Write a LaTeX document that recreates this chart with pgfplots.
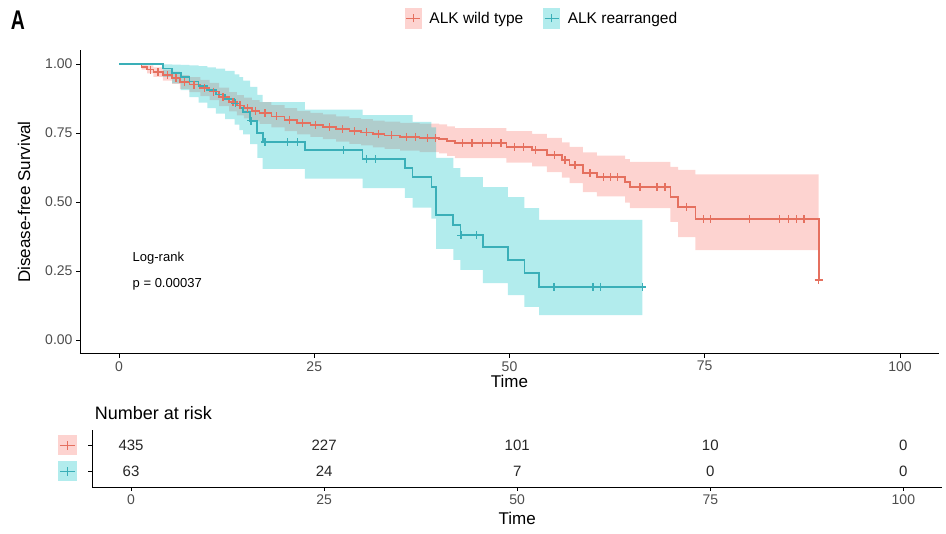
\documentclass[border=0pt]{standalone}
\usepackage{fontspec}
\setmainfont{Liberation Sans}
\usepackage{pgfplots}
\pgfplotsset{compat=1.18}
\usepackage{pgfplotstable}
\definecolor{redline}{HTML}{E5705F}
\definecolor{tealline}{HTML}{3AAFB8}
\definecolor{redfill}{HTML}{F8766D}
\definecolor{tealfill}{HTML}{00BFC4}
\definecolor{tickgrey}{HTML}{4D4D4D}

% red: ALK wild type, survival steps
\pgfplotstableread{
t S
0 1
2.9 0.99
3.6 0.98
4.4 0.97
5.6 0.96
6.8 0.95
7.8 0.935
9.0 0.925
10.4 0.913
11.6 0.90
12.8 0.88
14.1 0.862
15.1 0.85
16.0 0.84
17.0 0.83
18.0 0.822
19.5 0.81
21.2 0.798
22.8 0.787
24.5 0.779
26.1 0.772
27.8 0.764
29.5 0.757
31.0 0.752
32.5 0.746
34.0 0.741
36.0 0.736
38.5 0.732
41.0 0.728
42.0 0.72
43.0 0.713
49.6 0.70
52.9 0.688
54.8 0.67
56.7 0.652
57.7 0.634
59.4 0.605
61.2 0.59
64.8 0.572
65.4 0.554
70.6 0.518
71.6 0.482
73.8 0.438
89.6 0.217
}\redtab

% red confidence band: upper limit forward, lower limit backward
\pgfplotstableread{
t y
0 1
2.9 0.999
3.6 0.995
4.4 0.988
5.6 0.98
6.8 0.972
7.8 0.96
9.0 0.952
10.4 0.942
11.6 0.932
12.8 0.914
14.1 0.898
15.1 0.887
16.0 0.878
17.0 0.869
18.0 0.862
19.5 0.851
21.2 0.84
22.8 0.83
24.5 0.823
26.1 0.817
27.8 0.81
29.5 0.804
31.0 0.80
32.5 0.795
34.0 0.791
36.0 0.787
38.5 0.784
41.0 0.781
42.0 0.774
43.0 0.768
49.6 0.757
52.9 0.747
54.8 0.732
56.7 0.716
57.7 0.70
59.4 0.68
61.2 0.668
64.8 0.655
65.4 0.645
70.6 0.627
71.6 0.616
73.8 0.60
89.6 0.60
89.6 0.326
73.8 0.373
71.6 0.428
70.6 0.478
65.4 0.498
64.8 0.52
61.2 0.536
59.4 0.568
57.7 0.588
56.7 0.608
54.8 0.629
52.9 0.643
49.6 0.659
43.0 0.667
42.0 0.676
41.0 0.681
38.5 0.686
36.0 0.692
34.0 0.698
32.5 0.705
31.0 0.711
29.5 0.719
27.8 0.728
26.1 0.736
24.5 0.745
22.8 0.757
21.2 0.77
19.5 0.783
18.0 0.792
17.0 0.803
16.0 0.814
15.1 0.828
14.1 0.847
12.8 0.869
11.6 0.884
10.4 0.898
9.0 0.91
7.8 0.928
6.8 0.94
5.6 0.953
4.4 0.966
3.6 0.98
2.9 1
0 1
}\redband

% teal: ALK rearranged, survival steps
\pgfplotstableread{
t S
0 1
5.6 0.984
6.8 0.968
7.9 0.952
9.0 0.937
10.2 0.921
11.3 0.905
12.4 0.889
13.6 0.873
14.8 0.857
15.4 0.841
15.9 0.825
16.8 0.794
17.7 0.75
18.4 0.717
23.8 0.688
31.2 0.656
36.6 0.623
37.6 0.59
40.0 0.554
40.6 0.453
42.8 0.417
43.7 0.38
46.6 0.337
49.8 0.29
51.9 0.243
53.8 0.192
67.0 0.192
}\tealtab

% teal confidence band: upper limit forward, lower limit backward
\pgfplotstableread{
t y
0 1
5.6 0.999
6.8 0.998
7.9 0.997
9.0 0.995
10.2 0.992
11.3 0.988
12.4 0.983
13.6 0.975
14.8 0.962
15.4 0.952
15.9 0.94
16.8 0.917
17.7 0.888
18.4 0.862
23.8 0.835
31.2 0.815
36.6 0.815
37.6 0.79
40.0 0.77
40.6 0.66
42.8 0.623
43.7 0.59
46.6 0.554
49.8 0.518
51.9 0.478
53.8 0.435
67.0 0.435
67.0 0.09
53.8 0.12
51.9 0.163
49.8 0.206
46.6 0.254
43.7 0.29
42.8 0.33
40.6 0.44
40.0 0.48
37.6 0.515
36.6 0.55
31.2 0.585
23.8 0.62
18.4 0.66
17.7 0.71
16.8 0.745
15.9 0.76
15.4 0.78
14.8 0.80
13.6 0.82
12.4 0.84
11.3 0.86
10.2 0.88
9.0 0.905
7.9 0.93
6.8 0.953
5.6 1
0 1
}\tealband

\pgfplotstableread{
t S
4.0 0.98
5.0 0.97
6.2 0.96
7.3 0.95
8.4 0.935
9.6 0.925
10.9 0.913
12.1 0.90
13.3 0.88
14.6 0.862
15.5 0.85
16.5 0.84
17.5 0.83
18.7 0.822
20.2 0.81
21.8 0.798
23.5 0.787
25.2 0.779
26.9 0.772
28.6 0.764
30.2 0.757
31.7 0.752
33.2 0.746
34.9 0.741
36.8 0.736
38.0 0.736
39.5 0.732
40.5 0.732
44.0 0.713
45.2 0.713
46.5 0.713
47.7 0.713
48.9 0.713
50.6 0.70
51.8 0.70
53.3 0.688
55.8 0.67
57.1 0.652
58.4 0.634
60.3 0.605
62.0 0.59
62.9 0.59
63.8 0.59
66.7 0.554
68.9 0.554
69.9 0.554
72.7 0.482
74.8 0.438
75.7 0.438
80.7 0.438
84.6 0.438
85.7 0.438
86.8 0.438
87.7 0.438
89.6 0.217
}\redcens

\pgfplotstableread{
t S
14.9 0.857
16.9 0.794
18.7 0.717
21.6 0.717
22.9 0.717
28.7 0.688
31.7 0.656
32.8 0.656
43.8 0.38
45.8 0.38
55.7 0.192
60.7 0.192
61.7 0.192
67.0 0.192
}\tealcens

\begin{document}
\begin{tikzpicture}
\path[use as bounding box] (0pt,0pt) rectangle (946pt,534pt);
\node[anchor=center, font=\fontsize{27}{27}\selectfont\bfseries, xscale=0.72] at (18pt,514pt) {A};

\begin{axis}[
  at={(80pt,180.2pt)}, anchor=south west, scale only axis,
  width=859pt, height=303.6pt,
  xmin=-5, xmax=105, ymin=-0.05, ymax=1.05,
  axis lines=left, axis line style={-, line width=0.9pt, black},
  xtick={0,25,50,75,100}, ytick={0,0.25,0.5,0.75,1},
  tick align=outside, major tick length=4pt,
  tick style={black, line width=0.9pt},
  ticklabel style={font=\fontsize{14}{14}\selectfont, text=tickgrey},
  /pgf/number format/assume math mode=true,
  yticklabel style={/pgf/number format/.cd, fixed, fixed zerofill, precision=2},
  xlabel={Time}, ylabel={Disease-free Survival},
  label style={font=\fontsize{17}{17}\selectfont},
  xlabel style={at={(axis description cs:0.5,0)}, anchor=center, yshift=-28pt},
  ylabel style={at={(axis description cs:0,0.5)}, anchor=center, yshift=56pt},
  legend style={at={(axis description cs:0.538,1.105)}, anchor=center, draw=none, fill=none,
     font=\fontsize{15.5}{15.5}\selectfont,
     /tikz/every odd column/.append style={column sep=6pt},
     /tikz/every even column/.append style={column sep=18pt}},
  legend columns=2,
]
\addlegendimage{legend image code/.code={\fill[redfill!32] (0pt,-10pt) rectangle (16pt,10pt); \draw[redline, line width=1.3pt] (1pt,0pt) -- (15pt,0pt) (8pt,-4pt) -- (8pt,4pt);}}
\addlegendentry{ALK wild type}
\addlegendimage{legend image code/.code={\fill[tealfill!30] (0pt,-10pt) rectangle (16pt,10pt); \draw[tealline, line width=1.3pt] (1pt,0pt) -- (15pt,0pt) (8pt,-4pt) -- (8pt,4pt);}}
\addlegendentry{ALK rearranged}

\addplot[fill=redfill, fill opacity=0.32, draw=none, const plot, forget plot] table[x=t, y=y] {\redband};
\addplot[fill=tealfill, fill opacity=0.3, draw=none, const plot, forget plot] table[x=t, y=y] {\tealband};

\addplot[redline, line width=1.6pt, const plot, mark=none, forget plot] table[x=t, y=S] {\redtab};
\addplot[tealline, line width=1.6pt, const plot, mark=none, forget plot] table[x=t, y=S] {\tealtab};
\addplot[redline, only marks, mark=+, mark size=4pt, mark options={line width=1.2pt}, forget plot] table[x=t, y=S] {\redcens};
\addplot[tealline, only marks, mark=+, mark size=4pt, mark options={line width=1.2pt}, forget plot] table[x=t, y=S] {\tealcens};

\node[anchor=west, font=\fontsize{13}{13}\selectfont] at (axis cs:1.3,0.295) {Log-rank};
\node[anchor=west, font=\fontsize{13}{13}\selectfont] at (axis cs:1.3,0.20) {p = 0.00037};
\end{axis}

\begin{axis}[
  at={(92.4pt,47pt)}, anchor=south west, scale only axis,
  width=849.6pt, height=57.2pt,
  xmin=-5, xmax=105, ymin=0.4, ymax=2.6,
  axis lines=left, axis line style={-, line width=0.9pt, black},
  xtick={0,25,50,75,100}, ytick={1,2},
  yticklabels={
    {\tikz{\fill[tealfill!30] (0pt,0pt) rectangle (19pt,20pt); \draw[tealline, line width=1.2pt] (2pt,10pt) -- (17pt,10pt) (9.5pt,5.5pt) -- (9.5pt,14.5pt);}},
    {\tikz{\fill[redfill!32] (0pt,0pt) rectangle (19pt,20pt); \draw[redline, line width=1.2pt] (2pt,10pt) -- (17pt,10pt) (9.5pt,5.5pt) -- (9.5pt,14.5pt);}}},
  yticklabel style={xshift=-8pt},
  tick align=outside, major tick length=4pt,
  tick style={black, line width=0.9pt},
  ticklabel style={font=\fontsize{14}{14}\selectfont, text=tickgrey},
  /pgf/number format/assume math mode=true,
  xlabel={Time},
  label style={font=\fontsize{17}{17}\selectfont},
  xlabel style={at={(axis description cs:0.5,0)}, anchor=center, yshift=-31pt},
  title={Number at risk},
  title style={at={(axis description cs:0,1)}, anchor=west, yshift=11pt, xshift=-1pt, font=\fontsize{18}{18}\selectfont},
  clip=false,
]
\addplot[draw=none, mark=none, nodes near coords, point meta=explicit symbolic,
  nodes near coords style={anchor=center, font=\fontsize{15}{15}\selectfont, text=black!85}]
  coordinates {(0,2)[435] (25,2)[227] (50,2)[101] (75,2)[10] (100,2)[0]
               (0,1)[63] (25,1)[24] (50,1)[7] (75,1)[0] (100,1)[0]};
\end{axis}
\end{tikzpicture}
\end{document}
